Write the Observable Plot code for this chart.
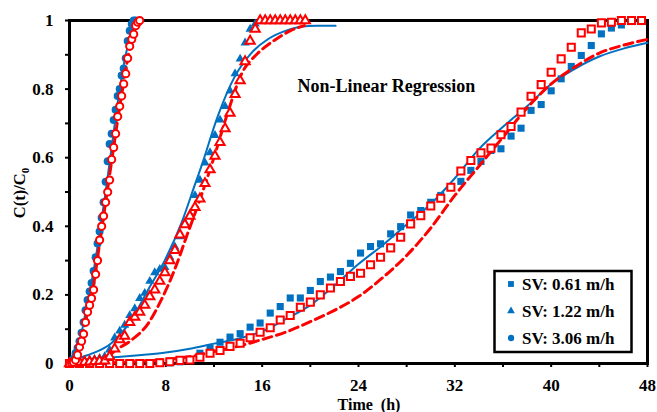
<!DOCTYPE html>
<html><head><meta charset="utf-8">
<script src="https://cdn.jsdelivr.net/npm/d3@7"></script>
<script src="https://cdn.jsdelivr.net/npm/@observablehq/plot@0.6"></script>
<style>
body{margin:0;background:#fff;}
#chart{position:relative;width:657px;height:412px;}
</style></head><body><div id="chart"></div>
<script>
// ---- Data ----
const xTicks = [0, 8, 16, 24, 32, 40, 48];
const xMinor = [4, 12, 20, 28, 36, 44];
const yTicks = [0, 0.2, 0.4, 0.6, 0.8, 1];
const yTickLabels = ["0", "0.2", "0.4", "0.6", "0.8", "1"];
const yMinor = [0.1, 0.3, 0.5, 0.7, 0.9];
const seriesLabels = ["SV: 0.61 m/h", "SV: 1.22 m/h", "SV: 3.06 m/h"];
const titleText = "Non-Linear Regression";
const xTitle = "Time  (h)";

// SV 0.61 m/h (squares)
const sqT = [0,0.83,1.67,2.5,3.33,4.17,5,5.83,6.67,7.5,8.33,9.17,10,10.83,11.67,12.5,13.33,14.17,15,15.83,16.67,17.5,18.33,19.17,20,20.83,21.67,22.5,23.33,24.17,25,25.83,26.67,27.5,28.33,29.17,30,30.83,31.67,32.5,33.33,34.17,35,35.83,36.67,37.5,38.33,39.17,40,40.83,41.67,42.5,43.33,44.17,45,45.83,46.67,47.5];
const sqBlue = [0,0,0,0,0,0,0,0,0,0.001,0.002,0.005,0.011,0.03,0.045,0.062,0.077,0.087,0.106,0.118,0.147,0.166,0.191,0.191,0.213,0.239,0.252,0.268,0.292,0.322,0.341,0.349,0.378,0.399,0.433,0.446,0.47,0.49,0.514,0.531,0.563,0.589,0.621,0.626,0.663,0.686,0.738,0.755,0.795,0.83,0.866,0.898,0.927,0.961,0.978,0.987,0.997,0.997];
const sqRed = [0,0,0,0,0,0,0,0,0,0.002,0.005,0.009,0.01,0.018,0.03,0.038,0.05,0.059,0.075,0.091,0.104,0.127,0.14,0.164,0.179,0.2,0.22,0.239,0.254,0.263,0.288,0.31,0.337,0.368,0.407,0.431,0.459,0.482,0.514,0.561,0.592,0.614,0.628,0.667,0.691,0.733,0.779,0.813,0.849,0.888,0.922,0.964,0.975,0.993,0.995,1,1,1];
const sqFitBlueT = [0,0.5,2,4,6,8,10,12,14,16,18,20,22,24,26,28,30,32,34,36,38,40,42,44,46,48];
const sqFitBlueY = [0,0.008,0.014,0.019,0.025,0.032,0.043,0.058,0.072,0.094,0.13,0.17,0.227,0.29,0.345,0.405,0.465,0.54,0.625,0.69,0.75,0.815,0.86,0.895,0.918,0.935];
const sqFitRedT = [0,4,8,10,12,14,16,18,20,22,24,26,28,30,32,34,36,38,40,42,44,46,48];
const sqFitRedY = [0,0.003,0.012,0.02,0.035,0.05,0.07,0.092,0.122,0.155,0.195,0.25,0.315,0.395,0.49,0.575,0.66,0.745,0.815,0.865,0.905,0.928,0.945];

// SV 1.22 m/h (triangles)
const triT = [0,0.42,0.83,1.25,1.67,2.08,2.5,2.92,3.33,3.75,4.17,4.58,5,5.42,5.83,6.25,6.67,7.08,7.5,7.92,8.33,8.75,9.17,9.58,10,10.42,10.83,11.25,11.67,12.08,12.5,12.92,13.33,13.75,14.17,14.58,15,15.42,15.83,16.25,16.67,17.08,17.5,17.92,18.33,18.75,19.17,19.58];
const triBlue = [0,0.003,0.005,0.008,0.01,0.012,0.015,0.02,0.04,0.075,0.095,0.112,0.14,0.16,0.19,0.205,0.24,0.265,0.275,0.28,0.31,0.34,0.37,0.41,0.435,0.49,0.535,0.585,0.615,0.665,0.71,0.75,0.795,0.845,0.888,0.935,0.975,0.99,0.998,1,1,1,1,1,1,1,1,1];
const triRed = [0,0.002,0.003,0.004,0.005,0.006,0.007,0.008,0.02,0.043,0.07,0.08,0.12,0.135,0.15,0.17,0.195,0.215,0.24,0.265,0.3,0.33,0.375,0.405,0.43,0.455,0.48,0.525,0.565,0.605,0.645,0.685,0.73,0.785,0.825,0.88,0.94,0.975,1,1,1,1,1,1,1,1,1,1];
const triFitBlueT = [0,1,1.8,3.5,5.1,6.5,7.9,9.3,10.4,11,12.3,13.7,15.1,16.5,18.1,19.2,20.5,22.1];
const triFitBlueY = [0,0.018,0.028,0.06,0.125,0.213,0.3,0.41,0.52,0.58,0.72,0.835,0.905,0.946,0.972,0.982,0.985,0.985];
const triFitRedT = [0,2,3,3.8,5.1,6.5,7.6,8.7,9.8,10.9,12,13.2,14.3,15.6,17,18.4,19.5];
const triFitRedY = [0,0.005,0.015,0.038,0.067,0.115,0.184,0.271,0.378,0.485,0.601,0.738,0.845,0.903,0.942,0.971,0.985];

// SV 3.06 m/h (circles)
const cirBlueT = [0,0.17,0.33,0.5,0.67,0.83,1,1.17,1.33,1.5,1.67,1.83,2,2.17,2.33,2.5,2.67,2.83,3,3.17,3.33,3.5,3.67,3.83,4,4.17,4.33,4.5,4.67,4.83,5,5.17,5.33,5.5];
const cirBlue = [0,0.005,0.014,0.03,0.045,0.065,0.09,0.12,0.155,0.185,0.21,0.235,0.27,0.31,0.35,0.385,0.425,0.47,0.53,0.59,0.64,0.67,0.71,0.74,0.78,0.8,0.84,0.86,0.89,0.94,0.97,0.99,1,1];
const cirRedT = [0,0.17,0.33,0.5,0.67,0.83,1,1.17,1.33,1.5,1.67,1.83,2,2.17,2.33,2.5,2.67,2.83,3,3.17,3.33,3.5,3.67,3.83,4,4.17,4.33,4.5,4.67,4.83,5,5.17,5.33,5.5,5.67,5.83];
const cirRed = [0,0.002,0.004,0.01,0.025,0.048,0.065,0.086,0.12,0.15,0.17,0.19,0.215,0.26,0.3,0.36,0.4,0.43,0.47,0.5,0.535,0.595,0.63,0.67,0.72,0.75,0.78,0.815,0.845,0.89,0.925,0.945,0.96,0.985,0.995,1];
const cirFitBlueT = [0,0.5,1,1.5,2,2.5,3,3.5,4,4.5,5,5.3];
const cirFitBlueY = [0,0.03,0.09,0.18,0.27,0.38,0.5,0.63,0.76,0.87,0.95,0.99];
const cirFitRedT = [0,0.5,1,1.5,2,2.5,3,3.5,4,4.5,5,5.5,5.8];
const cirFitRedY = [0,0.015,0.07,0.15,0.23,0.35,0.47,0.59,0.71,0.82,0.92,0.98,1.0];

// ---- Build ----
const rows = (ts, ys) => ts.map((t, i) => ({t, y: ys[i]}));
const blue = "#0070C0", red = "#FF0000";
const font = "'Liberation Serif', 'Times New Roman', serif";

const blueLine = (d) => Plot.line(d, {x: "t", y: "y", stroke: blue, strokeWidth: 2, curve: "monotone-x"});
const redLine = (d) => Plot.line(d, {x: "t", y: "y", stroke: red, strokeWidth: 3, strokeDasharray: "9,5", curve: "monotone-x"});
const blueDot = (d, symbol, r) => Plot.dot(d, {x: "t", y: "y", symbol, r, fill: blue, stroke: "none"});
const redDot = (d, symbol, r) => Plot.dot(d, {x: "t", y: "y", symbol, r, fill: "white", stroke: red, strokeWidth: 2});

const plot = Plot.plot({
  width: 657, height: 412,
  marginLeft: 69, marginRight: 10, marginTop: 20, marginBottom: 49,
  style: {fontFamily: font, fontSize: "17px", fontWeight: "bold", color: "#000", background: "#fff", overflow: "visible"},
  x: {domain: [0, 48]},
  y: {domain: [0, 1]},
  marks: [
    Plot.axisX(xMinor, {tickSize: 4, strokeWidth: 2, tickFormat: () => "", label: null}),
    Plot.axisX(xTicks, {tickSize: 4, tickPadding: 11, strokeWidth: 2, label: null, tickFormat: d => String(d)}),
    Plot.axisY(yMinor, {tickSize: 4, strokeWidth: 2, tickFormat: () => "", label: null}),
    Plot.axisY(yTicks, {tickSize: 4, tickPadding: 12, strokeWidth: 2, label: null, tickFormat: (d, i) => yTickLabels[i]}),
    Plot.frame({stroke: "#000", strokeWidth: 3}),
    Plot.text([titleText], {frameAnchor: "top-left", dx: 228, dy: 59, textAnchor: "start", fontSize: 18, fontWeight: "bold"}),
    blueLine(rows(sqFitBlueT, sqFitBlueY)),
    blueLine(rows(triFitBlueT, triFitBlueY)),
    blueLine(rows(cirFitBlueT, cirFitBlueY)),
    blueDot(rows(sqT, sqBlue), "square", 4),
    blueDot(rows(triT, triBlue), "triangle", 3.4),
    blueDot(rows(cirBlueT, cirBlue), "circle", 4),
    redLine(rows(sqFitRedT, sqFitRedY)),
    redLine(rows(triFitRedT, triFitRedY)),
    redLine(rows(cirFitRedT, cirFitRedY)),
    redDot(rows(sqT, sqRed), "square", 4),
    redDot(rows(triT, triRed), "triangle", 3.4),
    redDot(rows(cirRedT, cirRed), "circle", 3.6)
  ]
});
document.getElementById("chart").appendChild(plot);

const svg = d3.select(plot);
// x-axis title
svg.append("text").attr("x", 369).attr("y", 410).attr("text-anchor", "middle")
  .attr("font-family", font).attr("font-weight", "bold").attr("font-size", 16)
  .style("white-space", "pre").text(xTitle);
// y-axis title with subscript
const yt = svg.append("text").attr("transform", "translate(25,193) rotate(-90)")
  .attr("text-anchor", "middle").attr("font-family", font).attr("font-weight", "bold").attr("font-size", 16.5);
yt.append("tspan").text("C(t)/C");
yt.append("tspan").attr("font-size", 11).attr("dy", 4).text("0");

// legend
const lg = svg.append("g").attr("font-family", font).attr("font-weight", "bold").attr("font-size", 17);
lg.append("rect").attr("x", 494.5).attr("y", 271).attr("width", 137).attr("height", 81)
  .attr("fill", "white").attr("stroke", "#000").attr("stroke-width", 2.5);
const legSyms = [d3.symbolSquare, d3.symbolTriangle, d3.symbolCircle];
const legSizes = [34, 26, 32];
seriesLabels.forEach((lab, i) => {
  const cy = 284 + i * 27;
  lg.append("path").attr("d", d3.symbol(legSyms[i], legSizes[i])()).attr("transform", `translate(511,${cy})`).attr("fill", blue);
  lg.append("text").attr("x", 522).attr("y", cy).attr("dy", "0.35em").attr("text-anchor", "start").text(lab);
});
</script>
</body></html>
